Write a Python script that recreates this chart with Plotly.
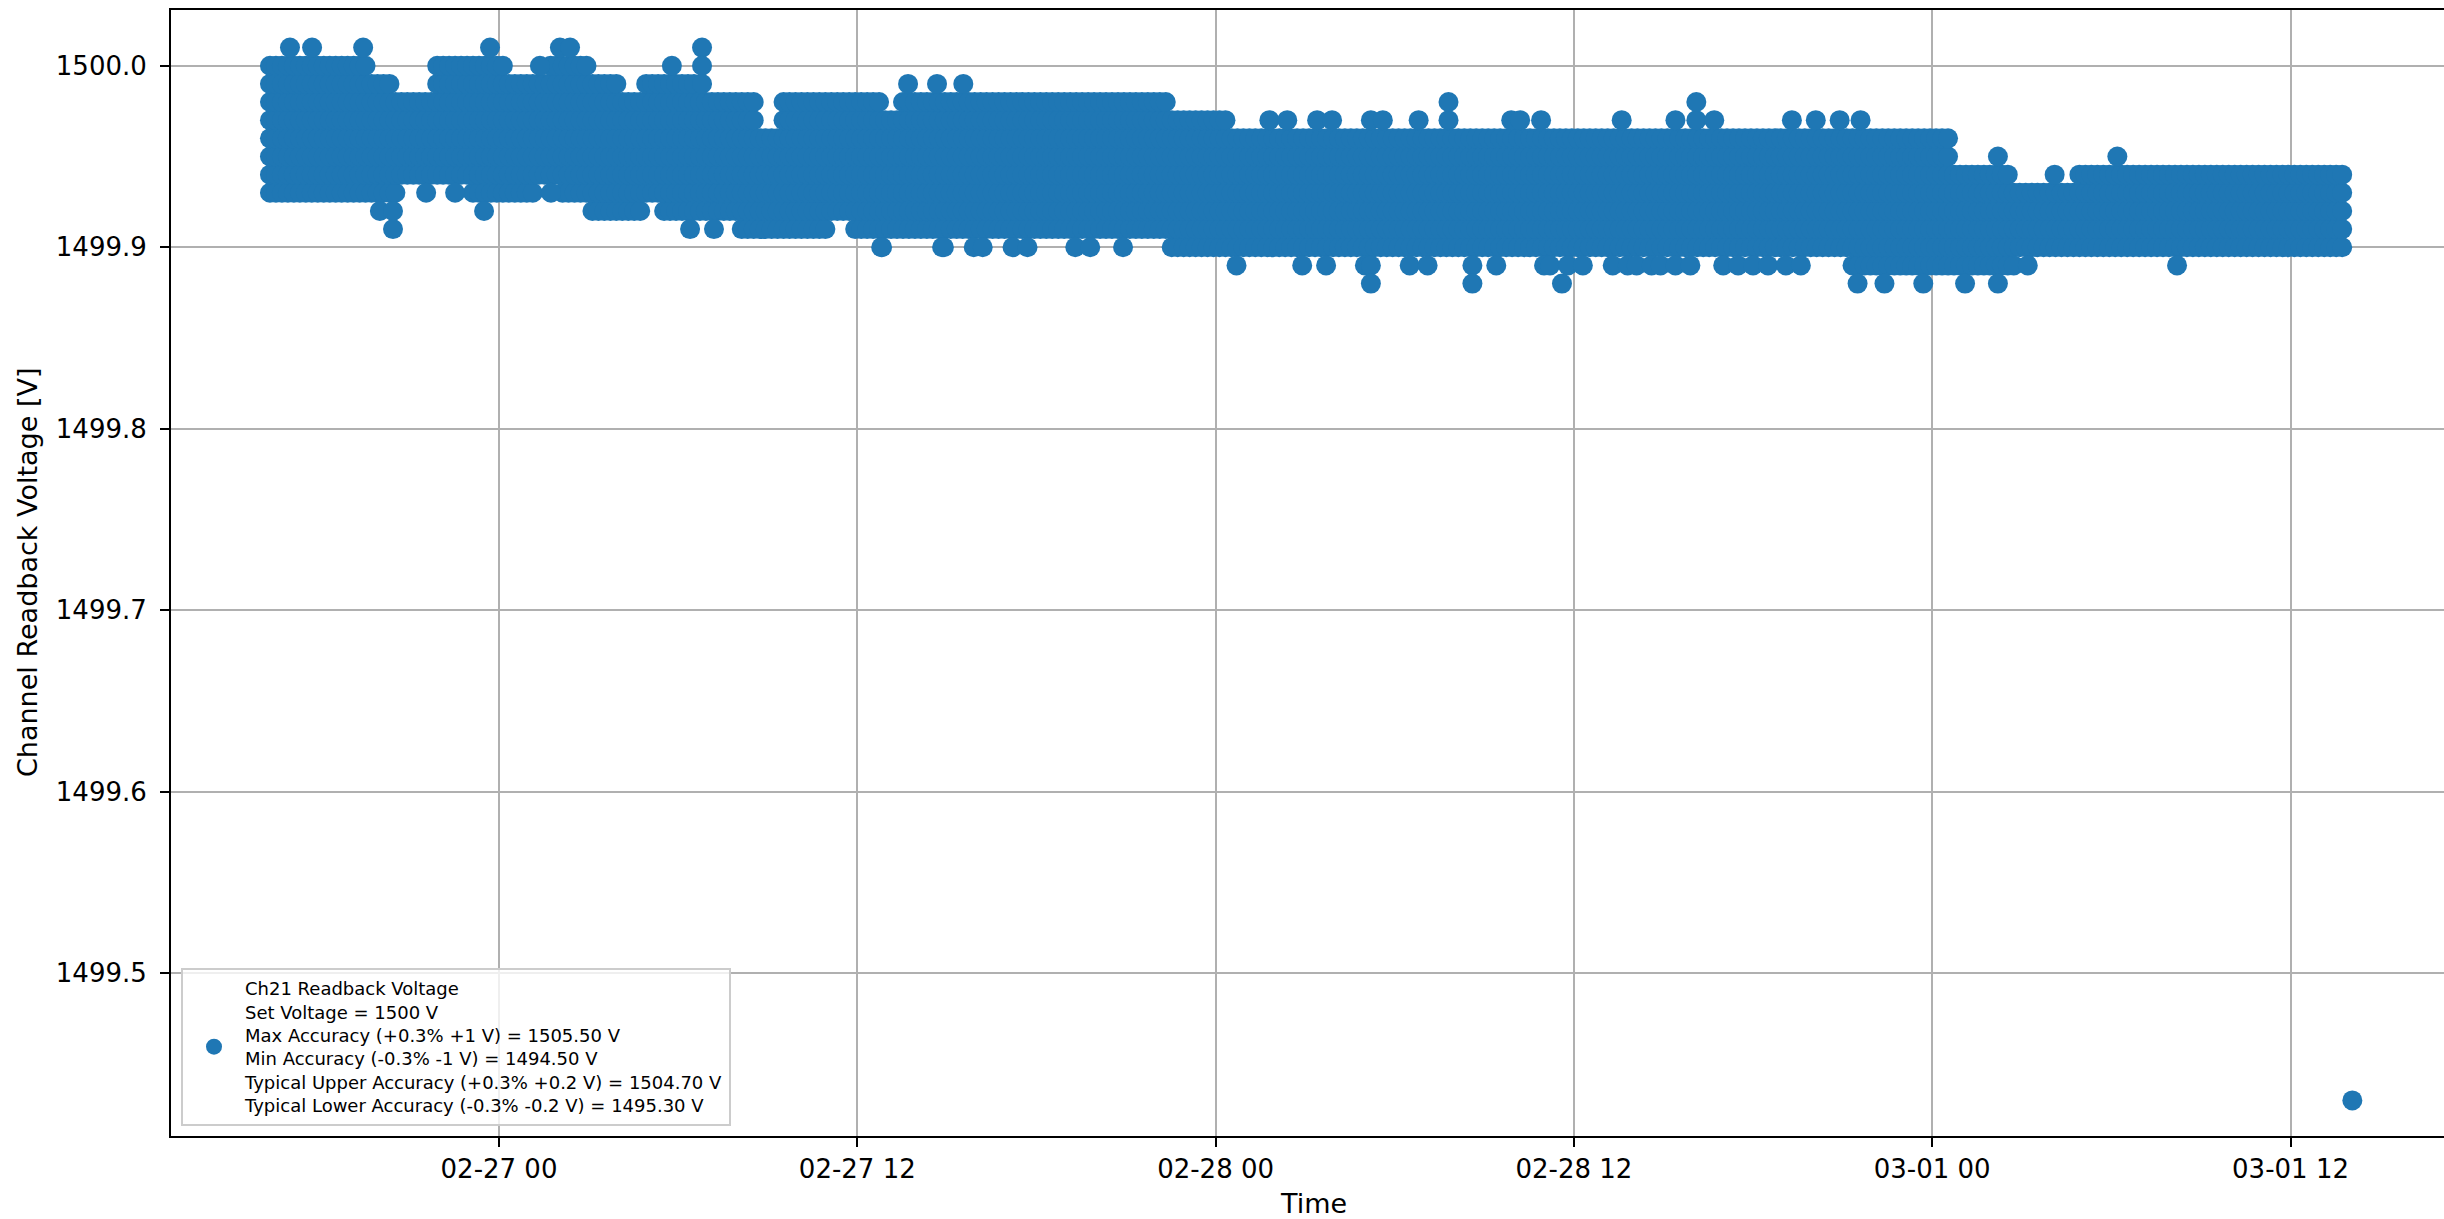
import numpy as np
import pandas as pd
import plotly.graph_objects as go

# ---------------- data ----------------
# time origin: 02-27 00:00 ; all times in hours relative to it
T0 = pd.Timestamp("2023-02-27 00:00")

# upper edge of the dense readback band: segment start [h] and top level [V]
hi_start_h = [-7.67, -4.32, -3.55, -2.21, 0.33, 1.67, 3.01, 4.05, 4.82, 6.73, 8.54, 9.44,
              12.89, 13.43, 22.5, 24.5, 48.7, 50.7, 52.8]
hi_level = [1500.00, 1499.99, 1499.98, 1500.00, 1499.99, 1500.00, 1499.99, 1499.98, 1499.99,
            1499.98, 1499.96, 1499.98, 1499.97, 1499.98, 1499.97, 1499.96, 1499.94, 1499.93, 1499.94]

# lower edge of the dense readback band: segment start [h] and bottom level [V]
lo_start_h = [-7.67, -3.42, -0.87, 1.24, 2.11, 3.01, 4.82, 5.43, 7.97, 10.95, 11.86, 22.5, 45.2, 50.9]
lo_level = [1499.93, 1499.94, 1499.93, 1499.94, 1499.93, 1499.92, 1499.93, 1499.92, 1499.91,
            1499.92, 1499.91, 1499.90, 1499.89, 1499.90]

band_end_h = 61.9
sample_step_h = 0.2

# isolated readings sticking out above the band
spike_up_t = [-7.0, -6.26, -4.55, -0.30, 2.04, 2.38, 6.80, 6.80, 6.80, 1.37, 5.79, 13.70, 14.67, 15.55,
              25.8, 26.4, 27.4, 27.9, 29.2, 29.6, 30.8, 31.8, 33.9, 34.2, 34.9, 37.6, 39.4, 40.1,
              40.7, 43.3, 44.1, 44.9, 45.6, 31.8, 40.1, 50.2, 52.1, 54.2]
spike_up_v = [1500.01, 1500.01, 1500.01, 1500.01, 1500.01, 1500.01, 1500.01, 1500.00, 1499.99,
              1500.00, 1500.00, 1499.99, 1499.99, 1499.99,
              1499.97, 1499.97, 1499.97, 1499.97, 1499.97, 1499.97, 1499.97, 1499.97, 1499.97,
              1499.97, 1499.97, 1499.97, 1499.97, 1499.97, 1499.97, 1499.97, 1499.97, 1499.97,
              1499.97, 1499.98, 1499.98, 1499.95, 1499.94, 1499.95]

# isolated readings sticking out below the band
spike_dn_t = [-3.99, -3.55, -3.55, -0.5, -2.44, -1.47, 1.74, 6.40, 7.2, 12.83, 14.84,
              12.8, 14.9, 15.9, 16.2, 17.2, 17.7, 19.3, 19.8, 20.9,
              24.7, 26.9, 27.7, 29.0, 29.2, 30.5, 31.1, 32.6, 33.4, 35.0, 35.2, 35.8, 36.3,
              37.3, 37.8, 38.1, 38.6, 38.9, 39.4, 39.9, 41.0, 41.5, 42.0, 42.5, 43.1, 43.6,
              29.2, 32.6, 35.6, 45.5, 46.4, 47.7, 49.1, 50.2,
              51.2, 56.2]
spike_dn_v = [1499.92, 1499.92, 1499.91, 1499.92, 1499.93, 1499.93, 1499.93, 1499.91, 1499.91,
              1499.90, 1499.90,
              1499.90, 1499.90, 1499.90, 1499.90, 1499.90, 1499.90, 1499.90, 1499.90, 1499.90,
              1499.89, 1499.89, 1499.89, 1499.89, 1499.89, 1499.89, 1499.89, 1499.89, 1499.89,
              1499.89, 1499.89, 1499.89, 1499.89, 1499.89, 1499.89, 1499.89, 1499.89, 1499.89,
              1499.89, 1499.89, 1499.89, 1499.89, 1499.89, 1499.89, 1499.89, 1499.89,
              1499.88, 1499.88, 1499.88, 1499.88, 1499.88, 1499.88, 1499.88, 1499.88,
              1499.89, 1499.89]

# single low reading at the end
outlier_t = [62.07]
outlier_v = [1499.43]

y_tick_vals = [1499.5, 1499.6, 1499.7, 1499.8, 1499.9, 1500.0]

legend_label = ("Ch21 Readback Voltage<br>Set Voltage = 1500 V<br>"
                "Max Accuracy (+0.3% +1 V) = 1505.50 V<br>"
                "Min Accuracy (-0.3% -1 V) = 1494.50 V<br>"
                "Typical Upper Accuracy (+0.3% +0.2 V) = 1504.70 V<br>"
                "Typical Lower Accuracy (-0.3% -0.2 V) = 1495.30 V")

# ---------------- build the point set ----------------
hs = np.array(hi_start_h); hl = np.round(np.array(hi_level) * 100).astype(int)
ls = np.array(lo_start_h); ll = np.round(np.array(lo_level) * 100).astype(int)
ts, vs = [], []
for t in np.arange(hi_start_h[0], band_end_h + 1e-9, sample_step_h):
    top = hl[np.searchsorted(hs, t, side="right") - 1]
    bot = ll[np.searchsorted(ls, t, side="right") - 1]
    for c in range(bot, top + 1):
        ts.append(t)
        vs.append(c / 100.0)
ts += spike_up_t + spike_dn_t + outlier_t
vs += spike_up_v + spike_dn_v + outlier_v
times = [T0 + pd.Timedelta(hours=float(h)) for h in ts]

# ---------------- figure ----------------
W, H = 2444, 1219
ML, MT, MB, MR = 171, 10, 83, 0
PW, PH = W - ML - MR, H - MT - MB
FONT = "DejaVu Sans"

fig = go.Figure()
fig.add_trace(go.Scatter(
    x=times, y=vs, mode="markers", name=legend_label,
    marker=dict(size=20, color="#1f77b4", line=dict(width=0)),
    showlegend=True, hoverinfo="skip",
))

x_left = T0 + pd.Timedelta(hours=-10.985)
x_right = T0 + pd.Timedelta(hours=65.14)

fig.update_layout(
    width=W, height=H,
    margin=dict(l=ML, r=MR, t=MT, b=MB, pad=0),
    paper_bgcolor="white", plot_bgcolor="white",
    font=dict(family=FONT, color="#000000"),
    showlegend=True,
    legend=dict(
        x=(181 - ML) / PW, y=(1136 - 1126) / PH, xanchor="left", yanchor="bottom",
        bgcolor="rgba(255,255,255,0.8)", bordercolor="#cccccc", borderwidth=2,
        font=dict(family=FONT, size=18, color="#000000"),
        itemwidth=52, tracegroupgap=0,
    ),
    xaxis=dict(
        type="date", range=[x_left, x_right],
        tick0=T0, dtick=12 * 3600 * 1000, tickformat="%m-%d %H",
        showgrid=True, gridcolor="#b0b0b0", gridwidth=1.6,
        showline=True, linecolor="black", linewidth=2, mirror=True,
        ticks="outside", ticklen=9, tickwidth=2, tickcolor="black",
        tickfont=dict(family=FONT, size=26, color="#000000"),
        ticklabelstandoff=0, zeroline=False,
    ),
    yaxis=dict(
        range=[1499.4104, 1500.0307],
        tickvals=y_tick_vals, tickformat=".1f",
        showgrid=True, gridcolor="#b0b0b0", gridwidth=1.6,
        showline=True, linecolor="black", linewidth=2, mirror=False,
        ticks="outside", ticklen=9, tickwidth=2, tickcolor="black",
        tickfont=dict(family=FONT, size=26, color="#000000"),
        ticklabelstandoff=8, zeroline=False,
    ),
    annotations=[
        dict(text="Channel Readback Voltage [V]", textangle=-90,
             xref="paper", yref="paper", x=(27 - ML) / PW, y=0.5,
             xanchor="center", yanchor="middle", showarrow=False,
             font=dict(family=FONT, size=27, color="#000000")),
        dict(text="Time", xref="paper", yref="paper",
             x=(1313 - ML) / PW, y=-(1203 - (MT + PH)) / PH,
             xanchor="center", yanchor="middle", showarrow=False,
             font=dict(family=FONT, size=27, color="#000000")),
    ],
)

fig.write_html(
    "out.html",
    config={"displayModeBar": False},
    post_script="document.body.style.margin='0';document.body.style.overflow='hidden';",
)
